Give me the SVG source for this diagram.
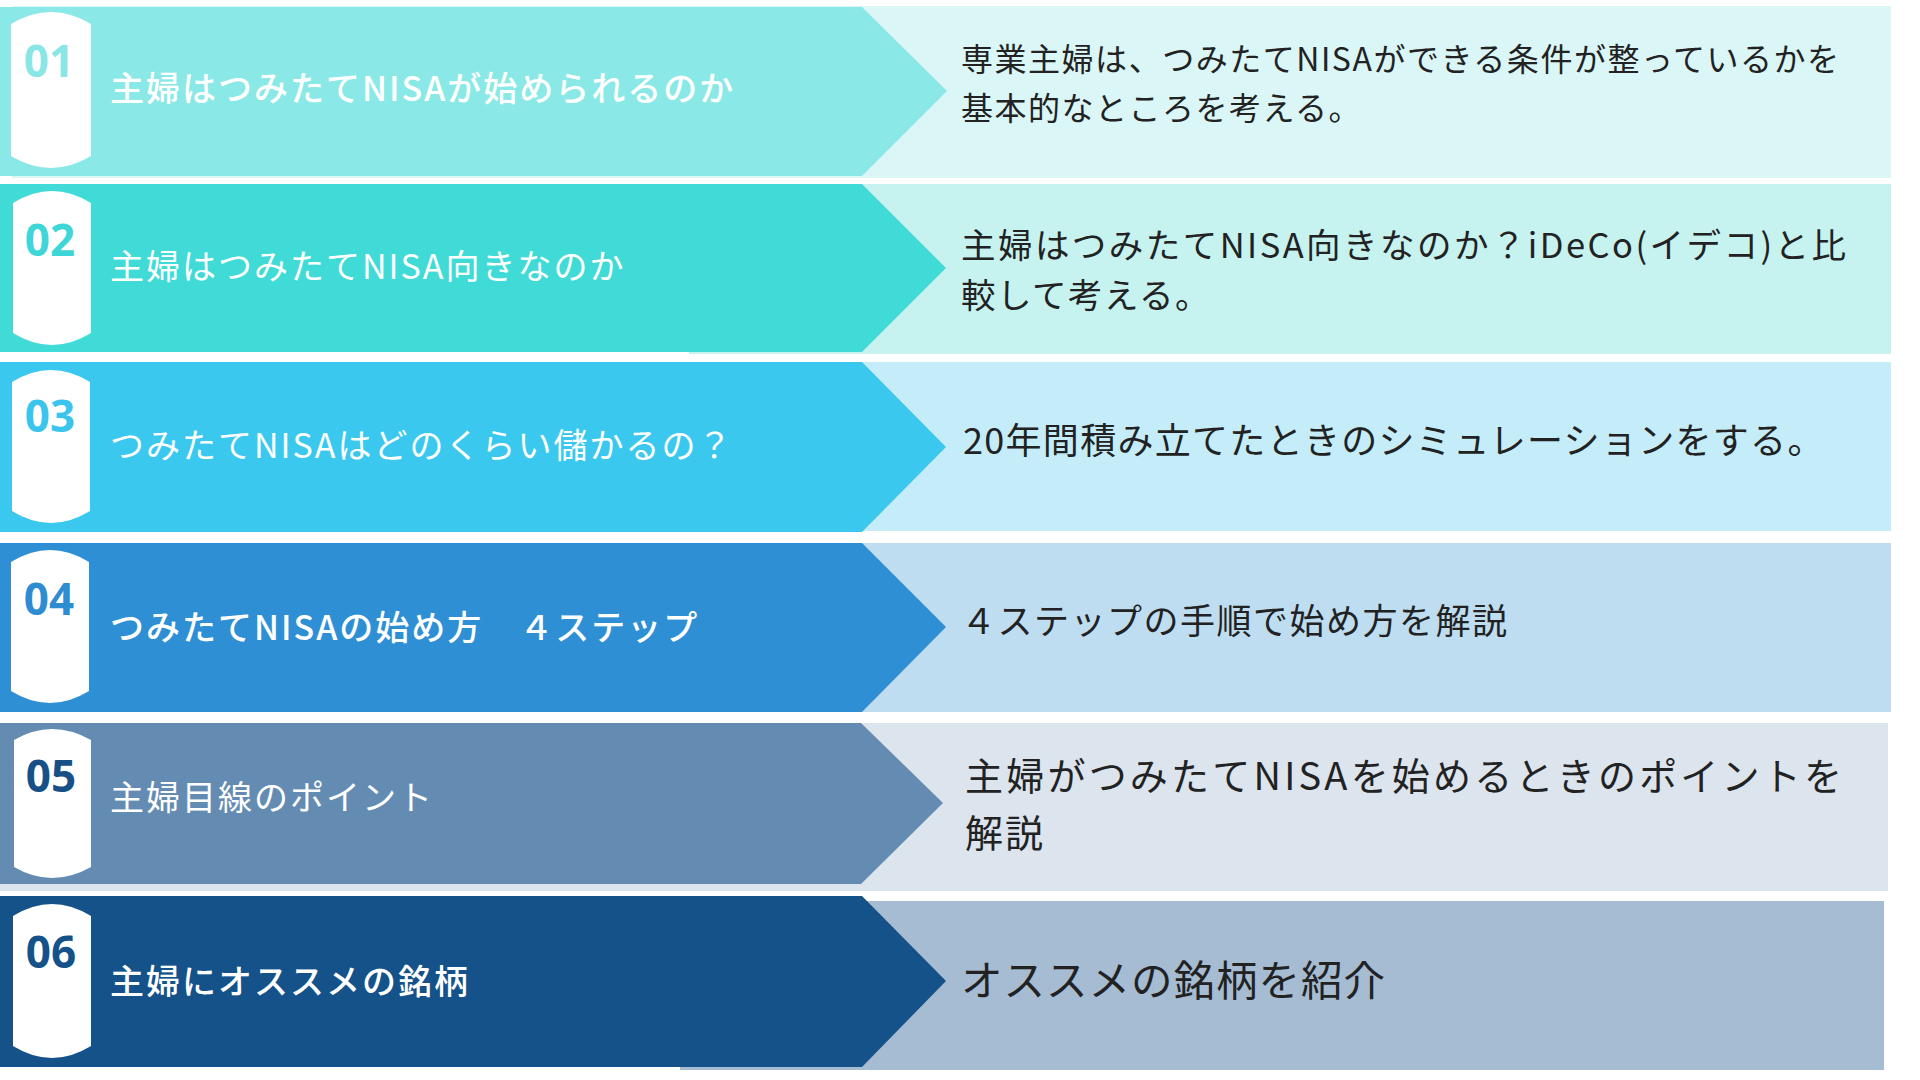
<svg xmlns="http://www.w3.org/2000/svg" width="1920" height="1080" viewBox="0 0 1920 1080">
<style>
.lt{font-family:"Noto Sans CJK JP","Noto Sans",sans-serif;font-size:34px;fill:#ffffff;letter-spacing:2px}
.rt{font-family:"Noto Sans CJK JP","Noto Sans",sans-serif;fill:#222222}
.num{font-family:"Open Sans","Noto Sans",sans-serif;font-weight:700;font-size:44px;text-anchor:middle}
.badge{fill:#ffffff}
</style>
<rect width="1920" height="1080" fill="#ffffff"/>
<g id="connectors"/>
<g id="row1">
<rect x="12" y="6" width="1879" height="172" fill="#DAF6F6"/>
<path d="M0,7 H862 L947,91 L862,176 H0 Z" fill="#8AE9E6"/>
<path class="badge" d="M11,24 Q51,0 91,24 L91,156 Q51,180 11,156 Z"/>
<text class="num" x="49" y="77" fill="#8AE6E6">01</text>
<text class="lt" x="110" y="101" font-weight="500">主婦はつみたてNISAが始められるのか</text>
<text class="rt" x="961" y="71" font-size="32" textLength="878" lengthAdjust="spacing">専業主婦は、つみたてNISAができる条件が整っているかを</text>
<text class="rt" x="961" y="120" font-size="32" letter-spacing="1.5">基本的なところを考える。</text>
</g>
<g id="row2">
<rect x="689" y="184" width="1202" height="170" fill="#C6F2F0"/>
<path d="M0,184 H862 L946,268 L862,352 H0 Z" fill="#40DBD7"/>
<path class="badge" d="M13,203 Q52,179 91,203 L91,333 Q52,357 13,333 Z"/>
<text class="num" x="50" y="256" fill="#3ED6D6">02</text>
<text class="lt" x="110" y="279">主婦はつみたてNISA向きなのか</text>
<text class="rt" x="961" y="258" font-size="34.5" textLength="885" lengthAdjust="spacing">主婦はつみたてNISA向きなのか？iDeCo(イデコ)と比</text>
<text class="rt" x="961" y="308" font-size="34.5" letter-spacing="1.5">較して考える。</text>
</g>
<g id="row3">
<rect x="689" y="362" width="1202" height="169" fill="#C4EDF9"/>
<path d="M0,362 H862 L946,447 L862,532 H0 Z" fill="#3AC8EF"/>
<path class="badge" d="M12,382 Q51,358 90,382 L90,511 Q51,535 12,511 Z"/>
<text class="num" x="50" y="432" fill="#3BC5EC">03</text>
<text class="lt" x="110" y="458">つみたてNISAはどのくらい儲かるの？</text>
<text class="rt" x="963" y="454" font-size="36" letter-spacing="1.3">20年間積み立てたときのシミュレーションをする。</text>
</g>
<g id="row4">
<rect x="689" y="543" width="1202" height="169" fill="#BEDDF1"/>
<path d="M0,543 H862 L946,627 L862,712 H0 Z" fill="#2E8FD5"/>
<path class="badge" d="M11,562 Q50,538 89,562 L89,691 Q50,715 11,691 Z"/>
<text class="num" x="49" y="615" fill="#2E8DD2">04</text>
<text class="lt" x="110" y="640" font-weight="500">つみたてNISAの始め方　４ステップ</text>
<text class="rt" x="961" y="634" font-size="35" letter-spacing="1.5">４ステップの手順で始め方を解説</text>
</g>
<g id="row5">
<rect x="0" y="723" width="1888" height="168" fill="#DCE4EE"/>
<path d="M0,723 H861 L943,803 L861,884 H0 Z" fill="#648CB3"/>
<path class="badge" d="M14,740 Q52,718 91,740 L91,867 Q52,889 14,867 Z"/>
<text class="num" x="51" y="792" fill="#174F87">05</text>
<text class="lt" x="110" y="810">主婦目線のポイント</text>
<text class="rt" x="965" y="790" font-size="38" textLength="877" lengthAdjust="spacing">主婦がつみたてNISAを始めるときのポイントを</text>
<text class="rt" x="965" y="847" font-size="38" letter-spacing="2">解説</text>
</g>
<g id="row6">
<rect x="680" y="901" width="1204" height="169" fill="#A5BCD3"/>
<path d="M0,896 H862 L946,981 L862,1067 H0 Z" fill="#155289"/>
<path class="badge" d="M13,916 Q52,892 91,916 L91,1046 Q52,1070 13,1046 Z"/>
<text class="num" x="51" y="968" fill="#155289">06</text>
<text class="lt" x="110" y="994" font-weight="500">主婦にオススメの銘柄</text>
<text class="rt" x="961" y="996" font-size="41.5" letter-spacing="1">オススメの銘柄を紹介</text>
</g>
</svg>
